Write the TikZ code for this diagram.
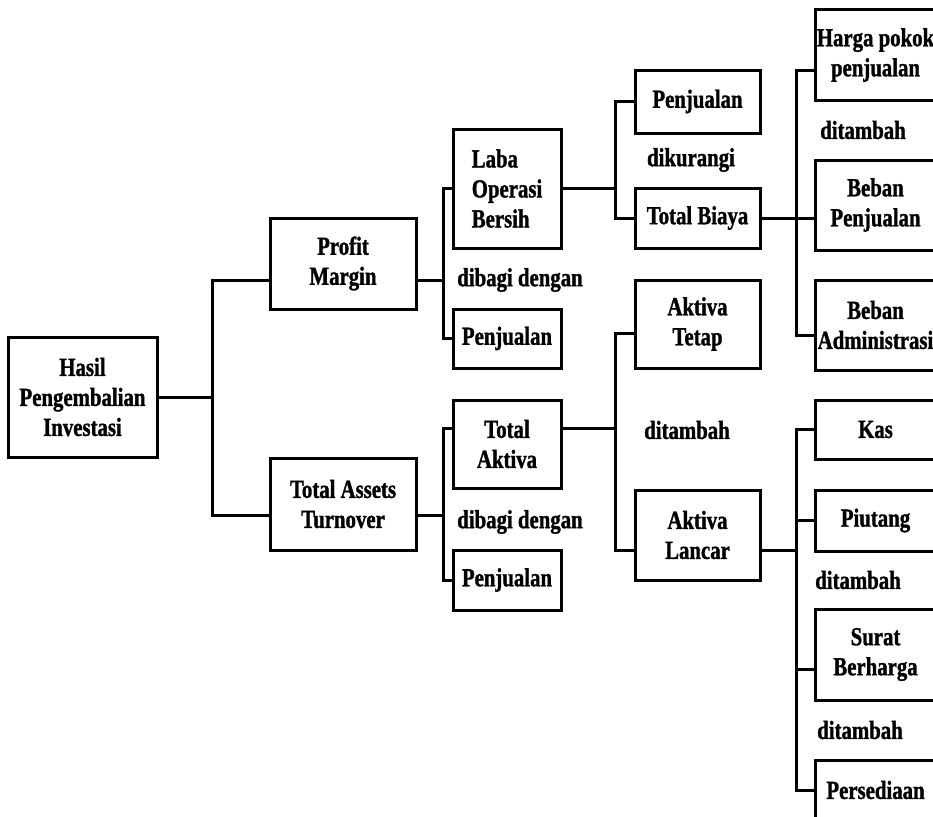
\documentclass[tikz,border=0pt]{standalone}
\usepackage{fontspec}
\newfontfamily\diagfont{Liberation Serif}[FakeStretch=0.8,FakeBold=1.2]
\usetikzlibrary{calc}
\begin{document}
\begin{tikzpicture}[x=1pt,y=-1pt,
  every node/.style={font=\diagfont\bfseries\fontsize{26}{30}\selectfont, inner sep=0pt, text=black},
  bx/.style={draw=black, line width=3pt, fill=white, align=center},
  rbx/.style={bx, minimum width=121},
  conn/.style={draw=black, line width=3pt}]
\useasboundingbox (0,0) rectangle (933,816);
\clip (0,0) rectangle (933,816);
% bus coordinates
\coordinate (b1) at (212,397);
\coordinate (b2) at (443,280);
\coordinate (b3) at (443,515);
\coordinate (b4) at (615,188.5);
\coordinate (b5) at (796,218);
\coordinate (b6) at (615,428);
\coordinate (b7) at (796,550);
% boxes
\node[bx, minimum width=149, minimum height=120] (hasil) at (82.5,397) {Hasil\\Pengembalian\\Investasi};
\node[bx, minimum width=146, minimum height=91] (pm) at (343,263.5) {Profit\\Margin};
\node[bx, minimum width=146, minimum height=92] (ta) at (343,504) {Total Assets\\Turnover};
\node[bx, minimum width=108, minimum height=119, align=left] (laba) at (507,188.5) {Laba\\Operasi\\Bersih};
\node[bx, minimum width=108, minimum height=59] (pen1) at (507,338.5) {Penjualan};
\node[bx, minimum width=108, minimum height=88] (tak) at (507,444) {Total\\Aktiva};
\node[bx, minimum width=108, minimum height=60] (pen2) at (507,580) {Penjualan};
\node[bx, minimum width=125, minimum height=63] (pjl) at (697.5,101.5) {Penjualan};
\node[bx, minimum width=125, minimum height=60] (tb) at (697.5,218) {Total Biaya};
\node[bx, minimum width=125, minimum height=88] (at) at (697.5,324) {Aktiva\\Tetap};
\node[bx, minimum width=125, minimum height=90] (al) at (697.5,535) {Aktiva\\Lancar};
\node[rbx, minimum height=90] (hpp) at (875.5,55) {Harga pokok\\penjualan};
\node[rbx, minimum height=90] (bp) at (875.5,205) {Beban\\Penjualan};
\node[rbx, minimum height=90] (ba) at (875.5,325) {Beban\\Administrasi};
\node[rbx, minimum height=59] (kas) at (875.5,429.5) {Kas};
\node[rbx, minimum height=61] (piu) at (875.5,520.5) {Piutang};
\node[rbx, minimum height=91] (sb) at (875.5,654.5) {Surat\\Berharga};
\node[rbx, minimum height=60] (pers) at (875.5,790) {Persediaan};
% operator labels
\node (op1) at (520,280) {dibagi dengan};
\node (op2) at (520,522) {dibagi dengan};
\node (op3) at (691,160) {dikurangi};
\node (op4) at (863,130) {ditambah};
\node (op5) at (687,430) {ditambah};
\node (op6) at (858,580) {ditambah};
\node (op7) at (860,730) {ditambah};
% connectors
\draw[conn] (hasil.east) -- (b1);
\draw[conn] ([yshift=-16.5pt]pm.west) -| (b1) |- ([yshift=-11pt]ta.west);
\draw[conn] ([yshift=-16.5pt]pm.east) -- (b2);
\draw[conn] (laba.west) -| (b2) |- (pen1.west);
\draw[conn] ([yshift=-11pt]ta.east) -- (b3);
\draw[conn] ([yshift=16pt]tak.west) -| (b3) |- (pen2.west);
\draw[conn] (laba.east) -- (b4);
\draw[conn] (pjl.west) -| (b4) |- (tb.west);
\draw[conn] (tb.east) -- (b5);
\draw[conn] ([yshift=-15pt]hpp.west) -| (b5) |- ([yshift=-10pt]ba.west);
\draw[conn] (b5) -- ([yshift=-13pt]bp.west);
\draw[conn] ([yshift=16pt]tak.east) -- (b6);
\draw[conn] ([yshift=-9pt]at.west) -| (b6) |- ([yshift=-15pt]al.west);
\draw[conn] ([yshift=-15pt]al.east) -- (b7);
\draw[conn] (kas.west) -| (b7) |- (pers.west);
\draw[conn] (b7 |- piu.west) -- (piu.west);
\draw[conn] ([yshift=-15pt]sb.west) -- ++(-19,0);
\end{tikzpicture}
\end{document}
